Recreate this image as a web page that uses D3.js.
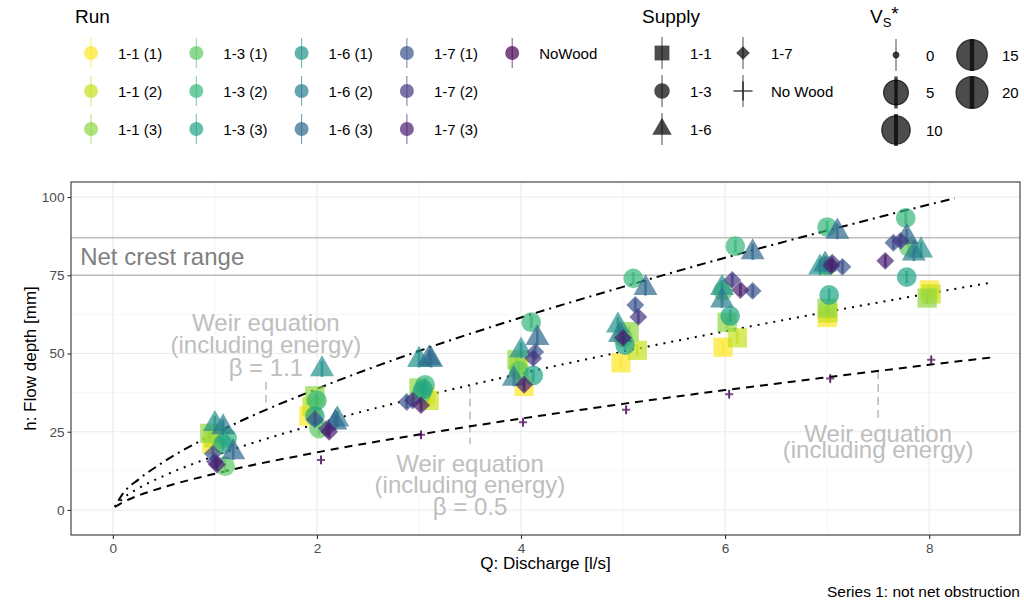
<!DOCTYPE html>
<html>
<head>
<meta charset="utf-8">
<script src="https://cdn.jsdelivr.net/npm/d3@7"></script>
<style>
body { margin: 0; background: #fff; }
svg text { font-family: "Liberation Sans", Arial, sans-serif; }
</style>
</head>
<body>
<div id="chart"></div>
<script>
// Runs (colour) and the wood supply (shape) of every run
var runs = ["1-1 (1)", "1-1 (2)", "1-1 (3)", "1-3 (1)", "1-3 (2)", "1-3 (3)",
            "1-6 (1)", "1-6 (2)", "1-6 (3)", "1-7 (1)", "1-7 (2)", "1-7 (3)", "NoWood"];
var runSupply = ["1-1", "1-1", "1-1", "1-3", "1-3", "1-3",
                 "1-6", "1-6", "1-6", "1-7", "1-7", "1-7", "No Wood"];
var supplies = ["1-1", "1-3", "1-6", "1-7", "No Wood"];
var vsBreaks = [0, 5, 10, 15, 20];

// Q [l/s] and h [mm] of each run
var q11_1 = [0.97, 1.92, 3.06, 4.03, 4.98, 5.98, 7.0, 8.0];
var h11_1 = [21, 30, 36.5, 39.5, 47, 52, 61.5, 70.3];
var q11_2 = [0.99, 1.95, 3.1, 3.98, 5.14, 6.12, 7.01, 8.02];
var h11_2 = [23, 33, 35, 45.5, 51, 55, 63, 69];
var q11_3 = [0.95, 1.98, 3.0, 3.96, 5.06, 6.02, 7.0, 7.98];
var h11_3 = [24.5, 36.5, 39, 48, 57, 60, 64.5, 67.7];
var q13_1 = [1.1, 2.02, 3.02, 3.98, 5.0, 5.98, 7.0, 7.8];
var h13_1 = [14, 26, 37, 44.5, 55, 70, 78, 84];
var q13_2 = [1.12, 2.0, 3.06, 4.1, 5.1, 6.1, 7.0, 7.77];
var h13_2 = [23, 35, 40, 60, 74, 84.3, 90.4, 93.3];
var q13_3 = [1.08, 1.98, 3.04, 4.12, 5.02, 6.05, 7.02, 7.78];
var h13_3 = [21, 30, 38.5, 43, 52.7, 62, 68.7, 74.4];
var q16_1 = [1.0, 2.05, 3.0, 4.0, 4.95, 5.97, 6.93, 7.92];
var h16_1 = [27.5, 45, 48, 51, 59, 71, 77.5, 83];
var q16_2 = [1.08, 2.2, 3.12, 3.93, 4.97, 5.97, 6.98, 7.85];
var h16_2 = [26.5, 29, 48, 42, 56, 67, 78.5, 82];
var q16_3 = [1.18, 2.18, 3.1, 4.16, 5.22, 6.27, 7.1, 7.78];
var h16_3 = [18.5, 28, 48.5, 55, 71, 82.4, 89, 87.3];
var q17_1 = [0.98, 1.98, 2.88, 4.14, 5.12, 6.27, 7.15, 7.65];
var h17_1 = [18, 29, 34.5, 50.5, 65.5, 70, 77.7, 85.4];
var q17_2 = [1.0, 2.1, 2.94, 4.12, 5.15, 6.07, 7.05, 7.72];
var h17_2 = [15.5, 26, 35, 48.5, 61.7, 73.5, 79, 86];
var q17_3 = [1.02, 2.12, 3.02, 4.03, 5.0, 6.15, 7.04, 7.57];
var h17_3 = [14.5, 25, 33.5, 40, 55, 70.3, 78, 79.6];
var qNoWood = [2.04, 3.02, 4.02, 5.03, 6.04, 7.03, 8.02];
var hNoWood = [16, 24, 28, 32, 37, 42, 48];

// V_S* and spread of h (errorbar) per run
var vsRun  = [2.2, 2.2, 2.2, 2, 2, 2, 1.8, 1.8, 1.8, 2.2, 2.2, 2.2, 0];
var errRun = [2, 2, 2, 2, 2, 2, 2.5, 2.5, 2.5, 2, 2, 2, 1.5];

// weir equation curves
var qWeir11 = [0.02, 0.1, 0.25, 0.5, 1, 2, 3, 4, 5, 6, 7, 8, 8.25];
var hWeir11 = [1, 5.3, 9.7, 15.4, 24.4, 38.7, 50.8, 61.5, 71.3, 80.6, 89.3, 97.6, 99.6];
var qWeir05 = [0.02, 0.1, 0.25, 0.5, 1, 2, 3, 4, 5, 6, 7, 8, 8.58];
var hWeir05 = [1, 3.7, 6.9, 10.9, 17.3, 27.5, 36, 43.6, 50.6, 57.1, 63.3, 69.2, 72.5];
var qWeir = [0.02, 0.1, 0.25, 0.5, 1, 2, 3, 4, 5, 6, 7, 8, 8.63];
var hWeir = [1, 2.5, 4.6, 7.3, 11.6, 18.4, 24.1, 29.2, 33.9, 38.3, 42.4, 46.4, 48.8];

var netCrest = [75, 87];
var xTicks = [0, 2, 4, 6, 8];
var yTicks = [0, 25, 50, 75, 100];

var qRuns = [q11_1, q11_2, q11_3, q13_1, q13_2, q13_3, q16_1, q16_2, q16_3, q17_1, q17_2, q17_3, qNoWood];
var hRuns = [h11_1, h11_2, h11_3, h13_1, h13_2, h13_3, h16_1, h16_2, h16_3, h17_1, h17_2, h17_3, hNoWood];

var points = [];
runs.forEach(function(run, i){
    qRuns[i].forEach(function(q, j){
        points.push({run: run, supply: runSupply[i], q: q, h: hRuns[i][j], vs: vsRun[i], err: errRun[i]});
    });
});

var width = 1024, height = 605;
var panel = {left: 71, right: 1020, top: 182, bottom: 535};
var legendText = 15, legendTitle = 19;

var x = d3.scaleLinear().domain([-0.41, 8.89]).range([panel.left, panel.right]);
var y = d3.scaleLinear().domain([-8, 104.8]).range([panel.bottom, panel.top]);
var color = d3.scaleOrdinal()
    .domain(runs)
    .range(runs.map(function(d, i){ return d3.interpolateViridis(1 - i / (runs.length - 1)); }));
var shapeOf = d3.scaleOrdinal().domain(supplies).range(["square", "circle", "triangle", "diamond", "plus"]);
// area linear in log(1 + V_S*)
var radius = d3.scaleRadial().domain([0, Math.log1p(20)]).range([2.8, 16]);
function rOf(vs){ return radius(Math.log1p(vs)); }

function shapePath(shape, r) {
    if (shape == "circle") return d3.symbol(d3.symbolCircle, Math.PI * r * r)();
    if (shape == "square") { var s = r * 0.95; return "M" + (-s) + "," + (-s) + "H" + s + "V" + s + "H" + (-s) + "Z"; }
    if (shape == "triangle") return "M0," + (-1.45 * r) + "L" + (1.25 * r) + "," + (0.75 * r) + "L" + (-1.25 * r) + "," + (0.75 * r) + "Z";
    if (shape == "diamond") { var d = 0.88 * r; return "M0," + (-d) + "L" + d + ",0L0," + d + "L" + (-d) + ",0Z"; }
    var p = 1.45 * r;
    return "M" + (-p) + ",0H" + p + "M0," + (-p) + "V" + p;
}

var svg = d3.select("#chart").append("svg")
    .attr("width", width)
    .attr("height", height);

// grid
var grid = svg.append("g");
grid.selectAll(".minx").data([1, 3, 5, 7]).enter().append("line")
    .attr("x1", function(d){ return x(d); }).attr("x2", function(d){ return x(d); })
    .attr("y1", panel.top).attr("y2", panel.bottom)
    .attr("stroke", "#f2f2f2").attr("stroke-width", 0.6);
grid.selectAll(".miny").data([12.5, 37.5, 62.5, 87.5]).enter().append("line")
    .attr("y1", function(d){ return y(d); }).attr("y2", function(d){ return y(d); })
    .attr("x1", panel.left).attr("x2", panel.right)
    .attr("stroke", "#f2f2f2").attr("stroke-width", 0.6);
grid.selectAll(".majx").data(xTicks).enter().append("line")
    .attr("x1", function(d){ return x(d); }).attr("x2", function(d){ return x(d); })
    .attr("y1", panel.top).attr("y2", panel.bottom)
    .attr("stroke", "#ebebeb").attr("stroke-width", 1.1);
grid.selectAll(".majy").data(yTicks).enter().append("line")
    .attr("y1", function(d){ return y(d); }).attr("y2", function(d){ return y(d); })
    .attr("x1", panel.left).attr("x2", panel.right)
    .attr("stroke", "#ebebeb").attr("stroke-width", 1.1);

// net crest range
svg.selectAll(".crest").data(netCrest).enter().append("line")
    .attr("x1", panel.left).attr("x2", panel.right)
    .attr("y1", function(d){ return y(d); }).attr("y2", function(d){ return y(d); })
    .attr("stroke", "#bebebe").attr("stroke-width", 1.6);
svg.append("text")
    .attr("x", x(-0.32)).attr("y", y(81))
    .attr("dominant-baseline", "central")
    .attr("font-size", 24).attr("fill", "#7f7f7f")
    .text("Net crest range");

// annotations
var annoFont = 24, annoColor = "#bebebe";
function annotate(q, hs, lines, seg) {
    svg.append("line")
        .attr("x1", x(q)).attr("x2", x(q))
        .attr("y1", y(seg[0])).attr("y2", y(seg[1]))
        .attr("stroke", annoColor).attr("stroke-width", 1.6)
        .attr("stroke-dasharray", "8,5");
    lines.forEach(function(t, i){
        svg.append("text")
            .attr("x", x(q)).attr("y", y(hs[i]))
            .attr("text-anchor", "middle").attr("dominant-baseline", "central")
            .attr("font-size", annoFont).attr("fill", annoColor)
            .text(t);
    });
}
annotate(1.5, [60, 52.8, 45.6], ["Weir equation", "(including energy)", "\u03B2 = 1.1"], [41, 32.5]);
annotate(3.5, [15, 8, 1], ["Weir equation", "(including energy)", "\u03B2 = 0.5"], [39.8, 21]);
annotate(7.5, [24.3, 19.2], ["Weir equation", "(including energy)"], [44.4, 29]);

// weir lines
var line = d3.line().curve(d3.curveMonotoneX);
function weir(qs, hs, dash) {
    svg.append("path")
        .attr("d", line(qs.map(function(q, i){ return [x(q), y(hs[i])]; })))
        .attr("fill", "none").attr("stroke", "#000").attr("stroke-width", 2)
        .attr("stroke-dasharray", dash);
}
weir(qWeir11, hWeir11, "2,5,9,5");
weir(qWeir05, hWeir05, "2,6");
weir(qWeir, hWeir, "8,6");

// points with errorbars
var pts = svg.append("g").selectAll("g").data(points).enter().append("g")
    .attr("transform", function(d){ return "translate(" + x(d.q) + "," + y(d.h) + ")"; });
pts.append("path")
    .attr("d", function(d){ return shapePath(shapeOf(d.supply), rOf(d.vs)); })
    .attr("fill", function(d){ return shapeOf(d.supply) == "plus" ? "none" : color(d.run); })
    .attr("stroke", function(d){ return shapeOf(d.supply) == "plus" ? color(d.run) : "none"; })
    .attr("stroke-width", 2)
    .attr("opacity", 0.7);
pts.append("line")
    .attr("y1", function(d){ return y(d.h + d.err) - y(d.h); })
    .attr("y2", function(d){ return y(d.h - d.err) - y(d.h); })
    .attr("stroke", function(d){ return color(d.run); })
    .attr("stroke-width", function(d){ return Math.max(1, 0.28 * rOf(d.vs)); })
    .attr("opacity", 0.7);

// panel border
svg.append("rect")
    .attr("x", panel.left).attr("y", panel.top)
    .attr("width", panel.right - panel.left).attr("height", panel.bottom - panel.top)
    .attr("fill", "none").attr("stroke", "#333").attr("stroke-width", 1.1);

// axes
var xAxis = svg.append("g")
    .attr("transform", "translate(0," + panel.bottom + ")")
    .call(d3.axisBottom(x).tickValues(xTicks).tickSize(4).tickPadding(4));
var yAxis = svg.append("g")
    .attr("transform", "translate(" + panel.left + ",0)")
    .call(d3.axisLeft(y).tickValues(yTicks).tickSize(3.5).tickPadding(3));
[xAxis, yAxis].forEach(function(a){
    a.select(".domain").remove();
    a.selectAll(".tick line").attr("stroke", "#333").attr("stroke-width", 1.1);
    a.selectAll(".tick text").attr("fill", "#4d4d4d").attr("font-size", 13.6)
        .attr("font-family", "Liberation Sans, Arial, sans-serif");
});

svg.append("text")
    .attr("x", (panel.left + panel.right) / 2).attr("y", 569)
    .attr("text-anchor", "middle").attr("font-size", 17)
    .text("Q: Discharge [l/s]");
svg.append("text")
    .attr("transform", "translate(36," + ((panel.top + panel.bottom) / 2) + ") rotate(-90)")
    .attr("text-anchor", "middle").attr("font-size", 17)
    .text("h: Flow depth [mm]");
svg.append("text")
    .attr("x", 1020).attr("y", 597)
    .attr("text-anchor", "end").attr("font-size", 15.5)
    .text("Series 1: not net obstruction");

// legend: Run
var lg = svg.append("g");
lg.append("text").attr("x", 75).attr("y", 23).attr("font-size", legendTitle).text("Run");
var runKey = lg.selectAll(".runkey").data(runs).enter().append("g")
    .attr("transform", function(d, i){ return "translate(" + (91 + Math.floor(i / 3) * 105.3) + "," + (53 + (i % 3) * 38) + ")"; });
runKey.append("circle").attr("r", 7).attr("fill", function(d){ return color(d); }).attr("opacity", 0.7);
runKey.append("line").attr("y1", -15).attr("y2", 15)
    .attr("stroke", function(d){ return color(d); }).attr("stroke-width", 1).attr("opacity", 0.7);
runKey.append("text").attr("x", 27).attr("dominant-baseline", "central").attr("font-size", legendText)
    .text(function(d){ return d; });

// legend: Supply
lg.append("text").attr("x", 642).attr("y", 23).attr("font-size", legendTitle).text("Supply");
var supKey = lg.selectAll(".supkey").data(supplies).enter().append("g")
    .attr("transform", function(d, i){ return "translate(" + (662 + Math.floor(i / 3) * 81) + "," + (53 + (i % 3) * 38) + ")"; });
supKey.append("path")
    .attr("d", function(d){ return shapePath(shapeOf(d), d == "No Wood" ? 6.6 : 7.8); })
    .attr("fill", function(d){ return d == "No Wood" ? "none" : "#000"; })
    .attr("stroke", function(d){ return d == "No Wood" ? "#000" : "none"; })
    .attr("stroke-width", 1.6)
    .attr("opacity", 0.7);
supKey.append("line").attr("y1", -16).attr("y2", 16)
    .attr("stroke", "#000").attr("stroke-width", 1).attr("opacity", 0.7);
supKey.append("text").attr("x", 28).attr("dominant-baseline", "central").attr("font-size", legendText)
    .text(function(d){ return d; });

// legend: V_S*
var vsTitle = lg.append("text").attr("x", 870).attr("y", 23).attr("font-size", legendTitle);
vsTitle.append("tspan").text("V");
vsTitle.append("tspan").attr("font-size", 13).attr("dy", 4).text("S");
vsTitle.append("tspan").attr("dy", -7).text("*");
var vsKey = lg.selectAll(".vskey").data(vsBreaks).enter().append("g")
    .attr("transform", function(d, i){ return "translate(" + (896 + Math.floor(i / 3) * 76) + "," + (55 + (i % 3) * 37.5) + ")"; });
vsKey.append("circle").attr("r", function(d){ return rOf(d); })
    .attr("fill", "rgba(0,0,0,0.7)").attr("stroke", "rgba(0,0,0,0.7)").attr("stroke-width", 1.2);
vsKey.append("line").attr("y1", -16).attr("y2", 16)
    .attr("stroke", "#000").attr("opacity", 0.7)
    .attr("stroke-width", function(d){ return Math.max(1, 0.28 * rOf(d)); });
vsKey.append("text").attr("x", 30).attr("dominant-baseline", "central").attr("font-size", legendText)
    .text(function(d){ return d; });
</script>
</body>
</html>
